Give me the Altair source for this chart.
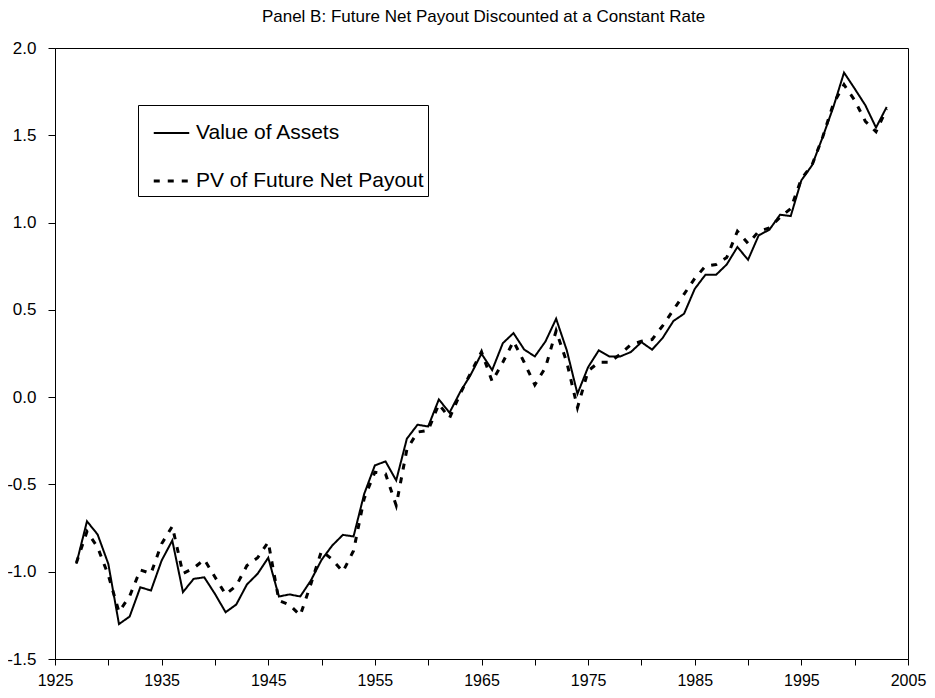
import altair as alt
import pandas as pd

years = list(range(1927, 2004))

value_of_assets = [
    -0.955, -0.711, -0.787, -0.955, -1.30, -1.257, -1.089, -1.108, -0.936, -0.821,
    -1.117, -1.041, -1.032, -1.127, -1.232, -1.188, -1.073, -1.012, -0.920, -1.142,
    -1.13, -1.142, -1.05, -0.932, -0.85, -0.789, -0.798, -0.554, -0.391, -0.368,
    -0.477, -0.238, -0.158, -0.168, -0.013, -0.089, 0.029, 0.130, 0.249, 0.155,
    0.309, 0.367, 0.273, 0.233, 0.319, 0.449, 0.268, 0.019, 0.172, 0.268,
    0.233, 0.233, 0.258, 0.315, 0.272, 0.340, 0.436, 0.478, 0.62, 0.701,
    0.701, 0.760, 0.860, 0.787, 0.927, 0.959, 1.045, 1.037, 1.242, 1.328,
    1.490, 1.662, 1.859, 1.767, 1.672, 1.544, 1.662,
]

pv_future_net_payout = [
    -0.95, -0.77, -0.86, -1.02, -1.23, -1.14, -0.99, -1.01, -0.84, -0.74,
    -1.01, -0.98, -0.93, -1.03, -1.13, -1.08, -0.965, -0.92, -0.83, -1.165,
    -1.19, -1.25, -1.07, -0.88, -0.93, -1.00, -0.88, -0.58, -0.43, -0.44,
    -0.62, -0.30, -0.20, -0.19, -0.04, -0.12, 0.02, 0.14, 0.26, 0.09,
    0.20, 0.32, 0.20, 0.07, 0.17, 0.38, 0.20, -0.06, 0.15, 0.20,
    0.20, 0.245, 0.30, 0.32, 0.33, 0.41, 0.50, 0.59, 0.68, 0.75,
    0.76, 0.80, 0.95, 0.88, 0.95, 0.97, 1.03, 1.08, 1.25, 1.33,
    1.49, 1.68, 1.79, 1.70, 1.58, 1.52, 1.65,
]

series_names = ["Value of Assets", "PV of Future Net Payout"]
x_ticks = list(range(1925, 2006, 5))
y_ticks = [-1.5, -1.0, -0.5, 0.0, 0.5, 1.0, 1.5, 2.0]

df = pd.DataFrame({
    "year": years * 2,
    "value": value_of_assets + pv_future_net_payout,
    "series": [series_names[0]] * len(years) + [series_names[1]] * len(years),
})

FONT = "Liberation Sans"

chart = alt.Chart(df).mark_line(color="black", strokeCap="butt", strokeJoin="miter").encode(
    x=alt.X(
        "year:Q",
        scale=alt.Scale(domain=[1925, 2005], nice=False, zero=False),
        axis=alt.Axis(
            values=x_ticks,
            labelExpr="datum.value % 10 == 5 ? datum.label : ''",
            format="d",
            title=None,
            grid=False,
            tickSize=6,
            labelPadding=7,
            labelFontSize=16,
            labelFlush=False,
            labelOverlap=False,
        ),
    ),
    y=alt.Y(
        "value:Q",
        scale=alt.Scale(domain=[-1.5, 2.0], nice=False, zero=False),
        axis=alt.Axis(
            values=y_ticks,
            format=".1f",
            labelExpr="replace(datum.label, '\u2212', '-')",
            title=None,
            grid=False,
            tickSize=7,
            labelPadding=12,
            labelFontSize=17,
            labelFlush=False,
            labelOverlap=False,
        ),
    ),
    strokeDash=alt.StrokeDash(
        "series:N",
        scale=alt.Scale(domain=series_names, range=[[1, 0], [6, 8]]),
        legend=alt.Legend(
            title="\u00a0" * 117,
            titleFontSize=9,
            titlePadding=4,
            titleLimit=400,
            orient="none",
            legendX=83,
            legendY=57,
            symbolType="stroke",
            symbolSize=1260,
            symbolStrokeWidth=2.5,
            symbolStrokeColor="black",
            symbolOffset=10,
            labelFontSize=21,
            labelFont=FONT,
            labelColor="black",
            labelOffset=5,
            clipHeight=22,
            rowPadding=26,
            padding=4,
            strokeColor="black",
            fillColor="white",
            labelLimit=400,
        ),
    ),
    strokeWidth=alt.StrokeWidth(
        "series:N",
        scale=alt.Scale(domain=series_names, range=[2, 3]),
        legend=None,
    ),
).properties(
    width=853,
    height=611,
    title=alt.TitleParams(
        "Panel B: Future Net Payout Discounted at a Constant Rate",
        fontSize=17,
        fontWeight="normal",
        font=FONT,
        color="black",
        anchor="middle",
        offset=13,
        dx=2,
    ),
    autosize=alt.AutoSizeParams(type="none"),
    padding={"left": 47, "top": 40, "right": 19, "bottom": 30},
).configure_view(
    stroke="black", strokeWidth=1
).configure_axis(
    domainColor="black",
    tickColor="black",
    labelColor="black",
    labelFont=FONT,
    domainWidth=1,
    tickWidth=1,
)

chart.save("out.html", embed_options={"renderer": "svg", "actions": False})
